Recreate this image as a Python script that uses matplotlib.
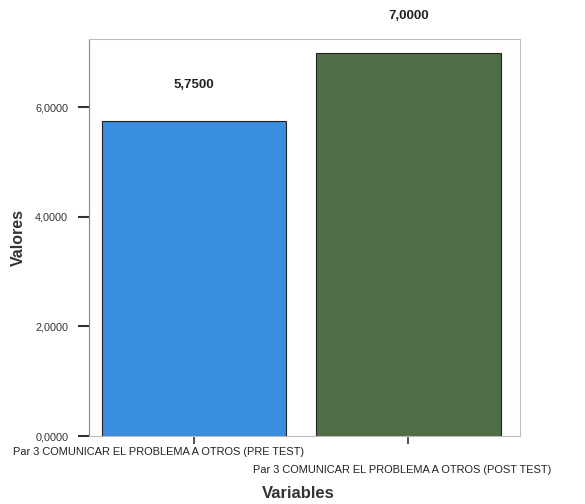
import numpy as np
import matplotlib.pyplot as plt
import matplotlib.transforms as mtransforms

plt.rcParams['font.family'] = ['Liberation Sans', 'DejaVu Sans']

categories = ['Par 3 COMUNICAR EL PROBLEMA A OTROS (PRE TEST)',
              'Par 3 COMUNICAR EL PROBLEMA A OTROS (POST TEST)']
values = [5.75, 7.0]
value_labels = ['5,7500', '7,0000']
bar_colors = ['#3a8ee0', '#506e45']
yticks = [0, 2, 4, 6]
ytick_labels = ['0,0000', '2,0000', '4,0000', '6,0000']

fig = plt.figure(figsize=(5.85, 5.04), dpi=100)
ax = fig.add_axes([89 / 585, 1 - 436 / 504, 431 / 585, 397 / 504])

index = np.arange(len(categories))
ax.bar(index, values, 0.86, color=bar_colors, edgecolor='#222222', linewidth=0.8)

for i, v in enumerate(values):
    ax.annotate(value_labels[i], (index[i], v), xytext=(0, 22),
                textcoords='offset points', ha='center', va='bottom',
                fontsize=9.5, fontweight='bold', color='#222222',
                annotation_clip=False)

ax.set_xlim(-0.49, 1.52)
ax.set_ylim(0, 7.25)
ax.set_yticks(yticks)
ax.set_yticklabels(ytick_labels, fontsize=7.8, color='#333333')
ax.set_xticks(index)
ax.set_xticklabels(categories, fontsize=7.9, color='#222222')

ax.tick_params(axis='y', direction='out', length=8, width=1.5, color='#333333', pad=7)
ax.tick_params(axis='x', direction='out', length=6, width=1.2, color='#333333', pad=2)

# stagger the long category labels like the original (after tick_params)
labels = ax.get_xticklabels()
labels[0].set_transform(labels[0].get_transform() +
                        mtransforms.ScaledTranslation(-0.36, 0, fig.dpi_scale_trans))
labels[1].set_transform(labels[1].get_transform() +
                        mtransforms.ScaledTranslation(-0.06, -0.18, fig.dpi_scale_trans))

for side in ['top', 'right', 'bottom']:
    ax.spines[side].set_color('#bbbbbb')
    ax.spines[side].set_linewidth(0.8)
ax.spines['left'].set_color('#888888')
ax.spines['left'].set_linewidth(0.8)

fig.text(18 / 585, 1 - 238 / 504, 'Valores', rotation=90, ha='center', va='center',
         fontsize=11.5, fontweight='bold', color='#333333')
fig.text(298 / 585, 1 - 494 / 504, 'Variables', ha='center', va='center',
         fontsize=12, fontweight='bold', color='#333333')

fig.savefig('out.png', dpi=100)
